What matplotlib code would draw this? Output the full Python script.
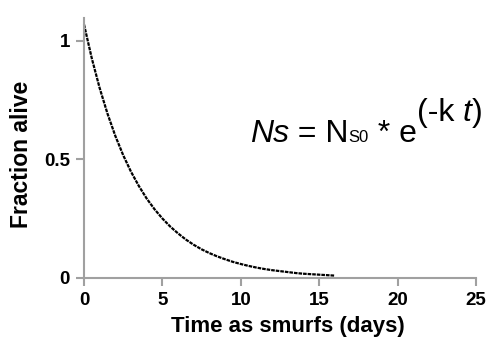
import matplotlib
matplotlib.use("Agg")
import matplotlib.pyplot as plt

plt.rcParams["font.family"] = ["Liberation Sans", "DejaVu Sans"]
plt.rcParams["lines.scale_dashes"] = False

# fraction alive, every half day
days = [0, 0.5, 1, 1.5, 2, 2.5, 3, 3.5, 4, 4.5, 5, 5.5, 6, 6.5, 7, 7.5, 8,
        8.5, 9, 9.5, 10, 10.5, 11, 11.5, 12, 12.5, 13, 13.5, 14, 14.5, 15,
        15.5, 16]
alive = [1.070, 0.926, 0.801, 0.693, 0.599, 0.518, 0.448, 0.388, 0.335,
         0.290, 0.251, 0.217, 0.188, 0.162, 0.140, 0.121, 0.105, 0.091,
         0.079, 0.068, 0.059, 0.051, 0.044, 0.038, 0.033, 0.029, 0.025,
         0.021, 0.018, 0.016, 0.014, 0.012, 0.010]
xticks = [0, 5, 10, 15, 20, 25]
yticks = [0, 0.5, 1]
ytick_labels = ["0", "0.5", "1"]

W, H = 486, 338
fig = plt.figure(figsize=(W / 100, H / 100), dpi=100)
ax = fig.add_axes([84 / W, 1 - 278 / H, (476 - 84) / W, (278 - 18) / H])

ax.plot(days, alive, color="black", lw=1.6, ls=(0, (2.6, 0.7)),
        clip_on=False)

ax.set_xlim(0, 25)
ax.set_ylim(0, 1.097)
ax.set_xticks(xticks)
ax.set_yticks(yticks)
ax.set_yticklabels(ytick_labels)

grey = "#a0a0a0"
for s in ["top", "right"]:
    ax.spines[s].set_visible(False)
for s in ["left", "bottom"]:
    ax.spines[s].set_color(grey)
    ax.spines[s].set_linewidth(1.5)
ax.tick_params(direction="out", length=6, width=1.5, color=grey, pad=4,
               labelsize=13.5)
for lab in ax.get_xticklabels() + ax.get_yticklabels():
    lab.set_fontweight("bold")

ax.set_xlabel("Time as smurfs (days)", fontsize=16, fontweight="bold")
ax.set_ylabel("Fraction alive", fontsize=16.5, fontweight="bold")
ax.xaxis.set_label_coords(0.519, -0.145)
ax.yaxis.set_label_coords(-0.13, 0.477)

# equation, drawn piece by piece in pixel coordinates
fig.canvas.draw()
r = fig.canvas.get_renderer()
pieces = [
    ("Ns", 23, "italic", 0),
    (" = N", 23, "normal", 0),
    ("S0", 12, "normal", 0),
    (" * e", 23, "normal", 0),
    ("(-k ", 23, "normal", 21),
    ("t", 23, "italic", 21),
    (")", 23, "normal", 21),
]
x = 250
base = H - 142
for txt, size, style, rise in pieces:
    t = fig.text(x / W, (base + rise) / H, txt, fontsize=size, style=style,
                 va="baseline", ha="left")
    x = t.get_window_extent(r).x1

fig.savefig("out.png", dpi=100)
